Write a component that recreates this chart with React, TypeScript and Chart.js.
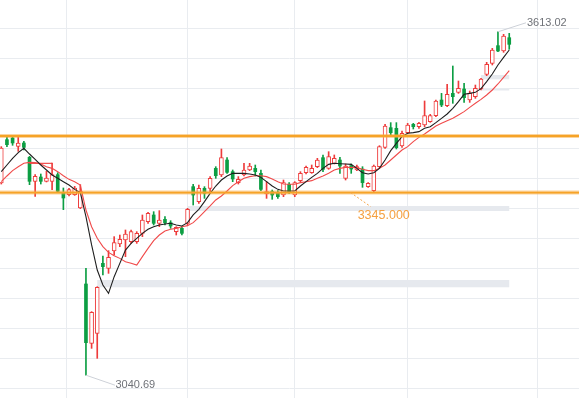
import React, { useEffect, useRef } from "react";
import { Chart, registerables } from "chart.js";

Chart.register(...registerables);

// ---- candle data (price units) ----
const opens = [
  3361.0, 3433.2, 3436.0, 3422.1, 3427.7, 3403.8, 3363.8, 3371.0, 3363.8, 3363.8,
  3374.9, 3344.3, 3341.6, 3341.6, 3319.3, 3192.7, 3093.8, 3110.4, 3227.1, 3218.8,
  3247.7, 3259.3, 3266.0, 3263.2, 3263.2, 3277.1, 3296.6, 3307.7, 3293.8, 3300.4,
  3294.9, 3279.9, 3285.4, 3293.8, 3354.9, 3329.9, 3352.1, 3352.1, 3385.4, 3374.3,
  3399.3, 3379.9, 3361.6, 3374.3, 3382.7, 3385.4, 3377.1, 3342.7, 3346.6, 3343.8,
  3341.0, 3358.8, 3341.0, 3364.9, 3378.2, 3378.2, 3388.2, 3403.2, 3385.4, 3393.8,
  3399.3, 3368.8, 3389.9, 3382.7, 3384.3, 3354.9, 3348.2, 3388.2, 3420.4, 3453.2,
  3452.1, 3422.7, 3444.9, 3458.8, 3454.9, 3457.7, 3463.2, 3473.2, 3499.3, 3489.9,
  3510.4, 3512.1, 3517.7, 3499.3, 3504.9, 3517.7, 3542.1, 3560.4, 3589.9, 3581.0,
  3603.2,
];
const highs = [
  3421.6, 3437.1, 3438.8, 3438.8, 3430.4, 3405.4, 3374.9, 3376.0, 3380.4, 3394.3,
  3378.2, 3352.7, 3352.1, 3355.4, 3358.2, 3218.8, 3146.6, 3188.2, 3239.3, 3248.2,
  3271.6, 3274.3, 3282.7, 3282.7, 3279.9, 3307.7, 3312.1, 3313.2, 3314.9, 3304.9,
  3298.2, 3288.2, 3288.2, 3318.8, 3358.8, 3357.7, 3354.9, 3371.6, 3388.2, 3417.7,
  3403.2, 3382.7, 3371.6, 3393.8, 3393.8, 3391.0, 3382.7, 3363.2, 3349.3, 3348.2,
  3366.0, 3361.6, 3363.2, 3379.9, 3389.3, 3391.0, 3402.1, 3407.7, 3413.2, 3407.7,
  3403.8, 3392.7, 3392.7, 3391.0, 3388.2, 3361.6, 3391.0, 3423.2, 3458.8, 3461.6,
  3461.6, 3447.7, 3460.4, 3460.4, 3462.1, 3497.7, 3475.4, 3499.3, 3510.4, 3525.4,
  3556.0, 3531.0, 3527.1, 3514.3, 3524.3, 3535.4, 3562.1, 3585.4, 3613.02, 3608.8,
  3610.4,
];
const lows = [
  3359.3, 3421.6, 3423.8, 3413.8, 3416.0, 3358.2, 3338.8, 3359.3, 3362.7, 3349.9,
  3344.9, 3316.6, 3339.3, 3340.4, 3318.2, 3040.69, 3085.4, 3068.8, 3207.7, 3210.4,
  3241.0, 3254.9, 3238.2, 3260.4, 3260.4, 3271.6, 3293.8, 3291.0, 3288.2, 3291.0,
  3285.4, 3274.3, 3274.3, 3291.0, 3324.3, 3327.1, 3335.4, 3346.6, 3368.8, 3371.6,
  3377.1, 3363.2, 3359.3, 3372.7, 3381.6, 3372.7, 3348.2, 3335.4, 3333.8, 3335.4,
  3338.2, 3343.8, 3338.2, 3363.2, 3376.0, 3377.1, 3386.6, 3379.9, 3383.8, 3392.7,
  3377.1, 3366.0, 3377.1, 3381.6, 3353.8, 3353.8, 3346.6, 3387.1, 3418.8, 3441.0,
  3417.7, 3420.4, 3443.8, 3451.0, 3452.1, 3454.9, 3462.1, 3471.6, 3488.2, 3488.2,
  3493.8, 3510.4, 3495.4, 3495.4, 3502.1, 3516.0, 3539.9, 3557.7, 3579.9, 3578.8,
  3583.8,
];
const closes = [
  3419.3, 3424.9, 3427.7, 3427.7, 3420.4, 3363.8, 3372.1, 3363.8, 3369.3, 3374.9,
  3347.1, 3336.0, 3349.9, 3352.7, 3347.1, 3094.9, 3145.4, 3187.1, 3221.6, 3237.1,
  3261.6, 3267.1, 3276.0, 3279.9, 3277.1, 3299.3, 3310.4, 3293.8, 3299.3, 3294.9,
  3289.3, 3287.1, 3277.1, 3317.1, 3341.0, 3352.1, 3343.8, 3368.8, 3373.2, 3403.2,
  3378.8, 3367.7, 3367.1, 3382.7, 3389.3, 3379.9, 3350.4, 3346.6, 3341.0, 3338.2,
  3361.6, 3346.6, 3361.6, 3377.1, 3387.1, 3385.4, 3399.3, 3383.8, 3404.9, 3402.1,
  3389.3, 3389.3, 3384.3, 3388.2, 3361.6, 3360.4, 3389.3, 3421.6, 3456.0, 3444.9,
  3419.9, 3443.8, 3457.7, 3454.9, 3460.4, 3473.2, 3473.2, 3497.7, 3491.0, 3508.8,
  3504.9, 3518.8, 3503.2, 3510.4, 3518.8, 3534.3, 3558.8, 3582.7, 3581.0, 3606.0,
  3592.1,
];
// moving averages
const maFast = [
  3379.9, 3391.0, 3402.1, 3411.6, 3418.8, 3409.3, 3400.4, 3391.0, 3382.7, 3374.3,
  3368.8, 3363.2, 3357.7, 3350.4, 3344.9, 3304.9, 3257.7, 3216.0, 3191.0, 3177.1,
  3204.9, 3227.1, 3249.3, 3260.4, 3268.8, 3277.1, 3283.8, 3288.2, 3291.0, 3292.7,
  3293.8, 3291.0, 3289.3, 3294.9, 3307.7, 3317.1, 3329.9, 3343.8, 3356.0, 3366.0,
  3372.7, 3377.1, 3377.1, 3377.1, 3376.0, 3374.3, 3370.4, 3363.2, 3356.0, 3350.4,
  3347.7, 3347.7, 3347.7, 3356.0, 3363.2, 3370.4, 3377.1, 3385.4, 3392.1, 3393.8,
  3393.2, 3392.7, 3392.1, 3385.4, 3378.2, 3376.0, 3378.2, 3385.4, 3399.3, 3414.9,
  3427.1, 3438.2, 3443.8, 3444.9, 3446.6, 3452.1, 3454.9, 3461.6, 3468.8, 3476.0,
  3485.4, 3496.6, 3508.8, 3510.4, 3512.1, 3518.2, 3529.9, 3542.7, 3557.7, 3570.4,
  3582.7,
];
const maSlow = [
  3363.2, 3372.7, 3381.6, 3388.2, 3393.8, 3395.4, 3394.9, 3392.7, 3388.2, 3385.4,
  3379.9, 3373.2, 3367.1, 3363.2, 3357.7, 3316.0, 3288.2, 3268.8, 3254.9, 3245.4,
  3239.9, 3235.4, 3229.9, 3227.1, 3224.3, 3238.2, 3252.1, 3264.9, 3274.3, 3281.0,
  3283.8, 3285.4, 3288.2, 3289.9, 3294.9, 3303.8, 3313.2, 3322.7, 3332.7, 3339.3,
  3347.7, 3356.6, 3363.2, 3368.8, 3371.6, 3373.2, 3373.2, 3371.6, 3367.7, 3363.2,
  3359.3, 3358.8, 3358.8, 3361.6, 3363.2, 3364.9, 3368.8, 3372.7, 3377.1, 3382.7,
  3385.4, 3387.1, 3387.1, 3386.6, 3383.8, 3381.6, 3381.6, 3385.4, 3391.0, 3399.3,
  3407.7, 3416.0, 3421.6, 3429.9, 3437.1, 3442.7, 3449.3, 3456.0, 3460.4, 3464.9,
  3468.8, 3474.3, 3479.9, 3487.1, 3493.8, 3500.4, 3507.7, 3516.0, 3526.0, 3537.1,
  3548.2,
];
// short flat red segment
const flatStart = 5;
const flatEnd = 9;
const flatPrice = 3393.8;

// horizontal levels and zones
const levelPrices = [3439.3, 3345.0];
const levelLabel = "3345.000";
const levelLabelIndex = 61.9;
const bandStarts = [33, 17, 85, 85];
const bandEnds = [90, 90, 90, 90];
const bandTops = [3322.7, 3199.3, 3541.0, 3517.7];
const bandBottoms = [3314.3, 3187.2, 3533.8, 3515.2];
// extreme labels
const highIndex = 88;
const lowIndex = 15;
const highLabel = "3613.02";
const lowLabel = "3040.69";
// grid
const gridPrices = [3618, 3568, 3518, 3468, 3418, 3368, 3318, 3268, 3218, 3168, 3118, 3068, 3018];
const gridIndexes = [11.64, 33.04, 51.91, 72.06, 94.97];

const X_MIN = -0.23;
const X_MAX = 102.36;
const Y_MIN = 3002.67;
const Y_MAX = 3666;

const RED = "#ee3b3b";
const GREEN = "#0c9e43";
const MA_RED = "#f04a4a";
const ORANGE = "#f59c12";
const GRID = "#e9ecf0";
const BAND = "#e6e9ee";

const overlayPlugin = {
  id: "overlay",
  beforeDatasetsDraw(chart: any) {
    const { ctx, scales } = chart;
    const x = scales.x;
    const y = scales.y;
    ctx.save();
    ctx.fillStyle = BAND;
    bandStarts.forEach((s, k) => {
      const x0 = x.getPixelForValue(s);
      const x1 = x.getPixelForValue(bandEnds[k]);
      const y0 = y.getPixelForValue(bandTops[k]);
      const y1 = y.getPixelForValue(bandBottoms[k]);
      ctx.fillRect(x0, y0, x1 - x0, y1 - y0);
    });
    ctx.restore();
  },
  afterDatasetsDraw(chart: any) {
    const { ctx, scales } = chart;
    const x = scales.x;
    const y = scales.y;
    ctx.save();
    // high label
    const hx = x.getPixelForValue(highIndex);
    const hy = y.getPixelForValue(highs[highIndex]);
    ctx.strokeStyle = "#cdd1d8";
    ctx.lineWidth = 1;
    ctx.beginPath();
    ctx.moveTo(hx, hy);
    ctx.lineTo(hx + 28, hy - 9);
    ctx.stroke();
    ctx.font = '11px "Liberation Sans", Arial, sans-serif';
    ctx.fillStyle = "#6f7278";
    ctx.textAlign = "left";
    ctx.textBaseline = "middle";
    ctx.fillText(highLabel, hx + 29, hy - 9);
    // low label
    const lx = x.getPixelForValue(lowIndex);
    const ly = y.getPixelForValue(lows[lowIndex]);
    ctx.beginPath();
    ctx.moveTo(lx, ly);
    ctx.lineTo(lx + 29, ly + 10);
    ctx.stroke();
    ctx.fillText(lowLabel, lx + 29.5, ly + 10);
    // level label
    const ox = x.getPixelForValue(levelLabelIndex);
    const oy = y.getPixelForValue(levelPrices[1]);
    ctx.strokeStyle = "#f5a54a";
    ctx.setLineDash([2, 2]);
    ctx.beginPath();
    ctx.moveTo(ox, oy);
    ctx.lineTo(ox + 20, oy + 14);
    ctx.stroke();
    ctx.setLineDash([]);
    ctx.font = '12.5px "Liberation Sans", Arial, sans-serif';
    ctx.fillStyle = "#f5a040";
    ctx.fillText(levelLabel, ox + 7, oy + 23);
    ctx.restore();
  },
};

export default function App() {
  const canvasRef = useRef<HTMLCanvasElement | null>(null);

  useEffect(() => {
    document.body.style.margin = "0";
    const canvas = canvasRef.current;
    if (!canvas) return;
    const idx = opens.map((_, i) => i);
    const up = idx.filter((i) => closes[i] >= opens[i]);
    const down = idx.filter((i) => closes[i] < opens[i]);

    const levelSets: any[] = [];
    levelPrices.forEach((p) => {
      levelSets.push({
        type: "line",
        data: [{ x: X_MIN, y: p }, { x: X_MAX, y: p }],
        borderColor: "rgba(247,170,60,0.5)",
        borderWidth: 4,
        pointRadius: 0,
        order: 0,
      });
      levelSets.push({
        type: "line",
        data: [{ x: X_MIN, y: p }, { x: X_MAX, y: p }],
        borderColor: ORANGE,
        borderWidth: 1.8,
        pointRadius: 0,
        order: 0,
      });
    });

    const chart = new Chart(canvas, {
      type: "bar",
      data: {
        datasets: [
          {
            type: "bar",
            data: idx.map((i) => ({ x: i, y: [lows[i], highs[i]] })) as any,
            backgroundColor: idx.map((i) => (closes[i] >= opens[i] ? RED : GREEN)),
            barThickness: 1,
            grouped: false,
            borderWidth: 0,
            order: 4,
          } as any,
          {
            type: "bar",
            data: up.map((i) => ({ x: i, y: [opens[i], closes[i]] })) as any,
            backgroundColor: "#ffffff",
            borderColor: RED,
            borderWidth: 1,
            borderSkipped: false,
            barThickness: 4,
            grouped: false,
            order: 3,
          } as any,
          {
            type: "bar",
            data: down.map((i) => ({ x: i, y: [closes[i], opens[i]] })) as any,
            backgroundColor: GREEN,
            borderWidth: 0,
            barThickness: 3,
            grouped: false,
            order: 3,
          } as any,
          {
            type: "line",
            data: idx.map((i) => ({ x: i, y: maSlow[i] })),
            borderColor: MA_RED,
            borderWidth: 1.1,
            pointRadius: 0,
            tension: 0,
            order: 2,
          } as any,
          {
            type: "line",
            data: [{ x: flatStart, y: flatPrice }, { x: flatEnd, y: flatPrice }],
            borderColor: RED,
            borderWidth: 1.1,
            pointRadius: 0,
            order: 2,
          } as any,
          {
            type: "line",
            data: idx.map((i) => ({ x: i, y: maFast[i] })),
            borderColor: "#1e1e1e",
            borderWidth: 1.1,
            pointRadius: 0,
            tension: 0,
            order: 1,
          } as any,
          ...levelSets,
        ],
      },
      options: {
        animation: false,
        responsive: true,
        maintainAspectRatio: false,
        events: [],
        layout: { padding: 0 },
        plugins: { legend: { display: false }, tooltip: { enabled: false } },
        scales: {
          x: {
            type: "linear",
            min: X_MIN,
            max: X_MAX,
            offset: false,
            grid: { color: GRID, drawTicks: false, offset: false },
            border: { display: false },
            ticks: { display: false },
            afterBuildTicks: (scale: any) => {
              scale.ticks = gridIndexes.map((v) => ({ value: v }));
            },
          },
          y: {
            type: "linear",
            min: Y_MIN,
            max: Y_MAX,
            grid: { color: GRID, drawTicks: false },
            border: { display: false },
            ticks: { display: false },
            afterBuildTicks: (scale: any) => {
              scale.ticks = gridPrices.map((v) => ({ value: v }));
            },
          },
        },
      } as any,
      plugins: [overlayPlugin],
    });
    return () => chart.destroy();
  }, []);

  return (
    <div style={{ width: 579, height: 398, position: "relative" }}>
      <canvas ref={canvasRef} style={{ display: "block" }} />
    </div>
  );
}
